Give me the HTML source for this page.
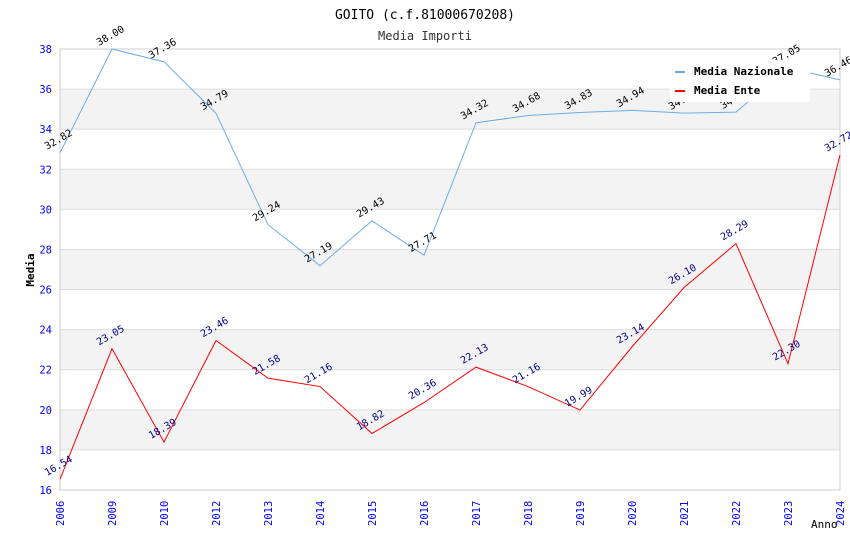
<!DOCTYPE html>
<html><head><meta charset="utf-8"><style>
body{margin:0;background:#fff;}
svg text{font-family:"DejaVu Sans Mono","Liberation Mono",monospace;}
</style></head><body>
<svg width="850" height="550" id="c">
<text x="425" y="19" text-anchor="middle" font-size="13" fill="#000">GOITO (c.f.81000670208)</text>
<text x="425" y="40" text-anchor="middle" font-size="12" fill="#333">Media Importi</text>
<text transform="translate(34,270) rotate(-90)" text-anchor="middle" font-size="11" font-weight="bold">Media</text>
<text x="811" y="528" font-size="11">Anno</text>
<g id="bands"></g><g id="axes"></g><g id="lines"></g><g id="labels"></g>
<g>
<rect x="670" y="60" width="140" height="42" fill="#fff"/>
<rect x="675" y="71" width="10" height="2" fill="#6aaeea"/>
<text x="694" y="75" font-size="11" font-weight="bold">Media Nazionale</text>
<rect x="675" y="90" width="10" height="2" fill="#f00"/>
<text x="694" y="94" font-size="11" font-weight="bold">Media Ente</text>
</g>
</svg>
<script>
const years=["2006","2009","2010","2012","2013","2014","2015","2016","2017","2018","2019","2020","2021","2022","2023","2024"];
const nazionale=[32.82,38.00,37.36,34.79,29.24,27.19,29.43,27.71,34.32,34.68,34.83,34.94,34.80,34.85,37.05,36.46];
const ente=[16.54,23.05,18.39,23.46,21.58,21.16,18.82,20.36,22.13,21.16,19.99,23.14,26.10,28.29,22.30,32.72];
const yTicks=[16,18,20,22,24,26,28,30,32,34,36,38];
const NS="http://www.w3.org/2000/svg";
const X0=60,X1=840,Y0=490,Y1=49,ymin=16,ymax=38;
const xs=i=>X0+i*(X1-X0)/(years.length-1);
const ys=v=>Y0-(v-ymin)/(ymax-ymin)*(Y0-Y1);
function mk(tag,attrs,parent){const e=document.createElementNS(NS,tag);for(const k in attrs)e.setAttribute(k,attrs[k]);document.getElementById(parent).appendChild(e);return e;}
for(let i=0;i<yTicks.length-1;i++){
  const a=yTicks[i],b=yTicks[i+1];
  const r=mk('rect',{x:X0,y:ys(b),width:X1-X0,height:ys(a)-ys(b),fill:(i%2==1)?'#f3f3f3':'#fff'},'bands');
  
  
}
yTicks.forEach(v=>{
  const l=mk('line',{x1:X0,x2:X1,y1:ys(v),y2:ys(v),stroke:'#ddd'},'axes');
  
  
  const t=mk('text',{x:X0-8,y:ys(v)+4,'text-anchor':'end','font-size':10.5,fill:'#00f'},'axes');
  t.textContent=v;
  
  
});
mk('rect',{x:X0,y:Y1,width:X1-X0,height:Y0-Y1,fill:'none',stroke:'#ccc'},'axes');
years.forEach((y,i)=>{
  const t=mk('text',{transform:`translate(${xs(i)+4},${Y0+36}) rotate(-90)`,'font-size':10.5,fill:'#00f'},'axes');
  t.textContent=y;
  
  
});
function series(arr,color,lc,name){
  const p=mk('polyline',{points:arr.map((v,i)=>xs(i)+','+ys(v)).join(' '),fill:'none',stroke:color,'stroke-width':1},'lines');
  
  
  arr.forEach((v,i)=>{
    const t=mk('text',{transform:`translate(${xs(i)-13},${ys(v)-3}) rotate(-30)`,'font-size':10,fill:lc},'labels');
    t.textContent=v.toFixed(2);
    
    
  });
}
series(nazionale,'#6aaeea','#000','line-nazionale');
series(ente,'#f00','#00008b','line-ente');
</script>
</body></html>
